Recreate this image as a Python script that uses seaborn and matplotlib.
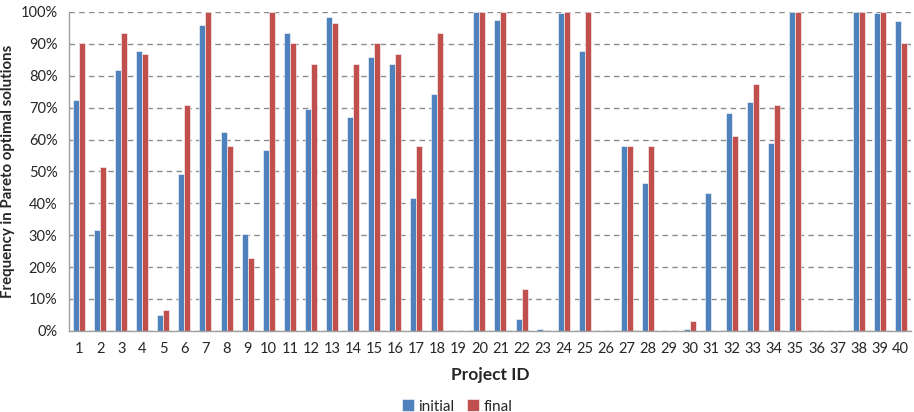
import numpy as np
import pandas as pd
import seaborn as sns
import matplotlib.pyplot as plt
from matplotlib.ticker import PercentFormatter

projects = [str(i) for i in range(1, 41)]
initial = [72.3, 31.7, 81.9, 87.9, 5.0, 49.1, 95.9, 62.5, 30.3, 56.6,
           93.4, 69.5, 98.3, 67.1, 85.8, 83.7, 41.7, 74.3, 0.0, 100.0,
           97.6, 3.7, 0.5, 99.7, 87.6, 0.0, 58.0, 46.3, 0.0, 0.5,
           43.2, 68.3, 71.9, 59.0, 100.0, 0.0, 0.0, 100.0, 99.7, 97.2]
final = [90.3, 51.4, 93.4, 86.8, 6.4, 70.8, 100.0, 58.0, 22.7, 100.0,
         90.3, 83.7, 96.6, 83.7, 90.3, 86.8, 58.0, 93.4, 0.0, 100.0,
         100.0, 13.0, 0.0, 100.0, 100.0, 0.0, 58.0, 58.0, 0.0, 3.2,
         0.0, 61.1, 77.4, 70.8, 100.0, 0.0, 0.0, 100.0, 100.0, 90.3]

df = pd.DataFrame({
    "Project ID": projects * 2,
    "Frequency": initial + final,
    "series": ["initial"] * 40 + ["final"] * 40,
})

sns.set_style("white")
plt.rcParams['font.family'] = ['Lato', 'DejaVu Sans']

fig, ax = plt.subplots(figsize=(9.14, 4.12), dpi=100)
fig.subplots_adjust(left=0.075, right=0.997, top=0.971, bottom=0.197)

sns.barplot(data=df, x="Project ID", y="Frequency", hue="series", order=projects,
            palette=["#4F81BD", "#C0504D"], saturation=1, width=0.57, gap=0,
            edgecolor="white", linewidth=0.4, ax=ax)

ax.set_ylim(0, 100)
ax.set_xlim(-0.5, 39.5)
ax.set_yticks(np.arange(0, 101, 10))
ax.yaxis.set_major_formatter(PercentFormatter(decimals=0))
ax.yaxis.grid(True, linestyle=(0, (4, 3)), color="#8c8c8c", linewidth=1)
ax.set_axisbelow(True)

ax.set_xticks(np.arange(-0.5, 40, 1), minor=True)
ax.tick_params(axis="x", which="major", length=0, labelsize=10.5, pad=8)
ax.tick_params(axis="x", which="minor", length=5, color="#a0a0a0", direction="out")
ax.tick_params(axis="y", length=5, color="#a0a0a0", direction="out", labelsize=10.5, pad=3)

for side in ["top", "right"]:
    ax.spines[side].set_visible(False)
for side in ["left", "bottom"]:
    ax.spines[side].set_color("#a0a0a0")
    ax.spines[side].set_linewidth(1)

ax.set_xlabel("Project ID", fontsize=12.5, fontweight="bold", labelpad=8)
ax.set_ylabel("Frequency in Pareto optimal solutions", fontsize=10.8, fontweight="bold", labelpad=4)

ax.legend(loc="lower center", bbox_to_anchor=(0.5, -0.028), bbox_transform=fig.transFigure,
          ncol=2, frameon=False, fontsize=11, handlelength=0.8, handleheight=0.8,
          handletextpad=0.3, columnspacing=0.8, borderpad=0.15)

fig.savefig("out.png", dpi=100)
